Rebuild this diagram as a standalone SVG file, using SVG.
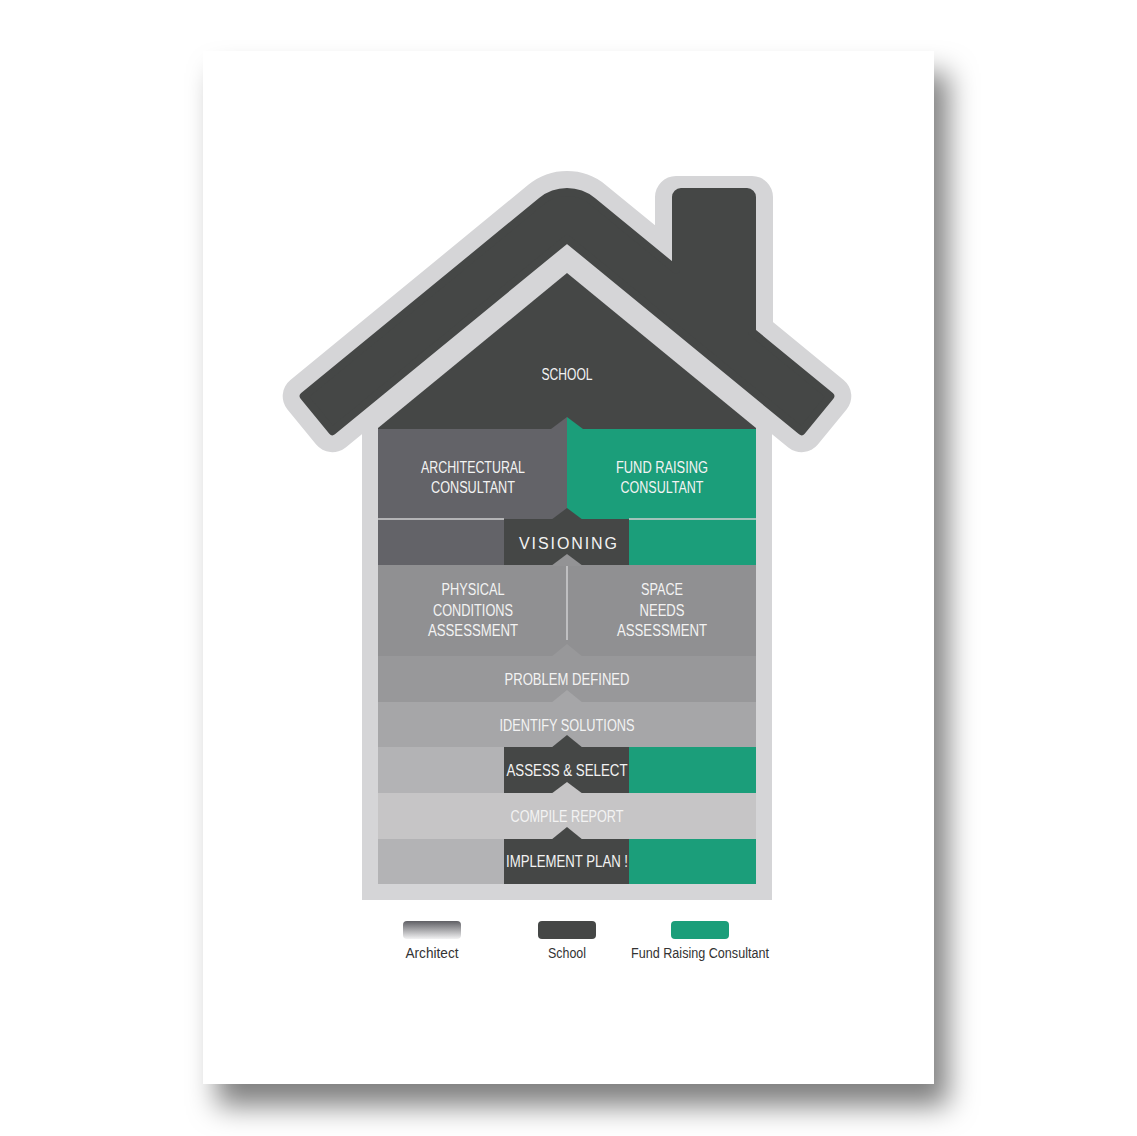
<svg xmlns="http://www.w3.org/2000/svg" width="1137" height="1136" viewBox="0 0 1137 1136">
<defs>
<style>
.t{font-family:"Liberation Sans","DejaVu Sans",sans-serif;font-size:16px;fill:#f3f3f3;text-anchor:middle}
.lg{font-family:"Liberation Sans","DejaVu Sans",sans-serif;font-size:14px;fill:#333333;text-anchor:middle}
.dark{fill:#454746}
.arch{fill:#636368}
.green{fill:#1b9e7a}
.sep{stroke:#cfcfd1;stroke-width:1.5;fill:none}
</style>
<filter id="shadow" x="-10%" y="-10%" width="125%" height="125%">
<feDropShadow dx="14" dy="22" stdDeviation="14" flood-color="#000" flood-opacity="0.5"/>
</filter>
<linearGradient id="archGrad" x1="0" y1="0" x2="0" y2="1">
<stop offset="0" stop-color="#5f5f64"/>
<stop offset="1" stop-color="#f2f2f3"/>
</linearGradient>
</defs>
<rect width="1137" height="1136" fill="#ffffff"/>
<rect id="page" x="203" y="51" width="731" height="1033" fill="#ffffff" filter="url(#shadow)"/>

<g id="house-outline">
<path d="M332.4,431.2 L303.7,396.2 L541.6,201.1 A40,40 0 0 1 592.4,201.1 L676,269.6 L676,197 L752,197 L752,331.9 L830.3,396.2 L801.6,431.2 L567,238.8 Z" fill="#d5d5d7" stroke="#d5d5d7" stroke-width="42" stroke-linejoin="round"/>
<path d="M362,900 L362,412 L567,244 L772,412 L772,900 Z" fill="#d5d5d7"/>
</g>

<g id="school">
<path d="M378,884 L378,428 L567,273 L756,428 L756,884 Z" class="dark"/>
<path d="M332.4,431.2 L303.7,396.2 L541.6,201.1 A40,40 0 0 1 592.4,201.1 L676,269.6 L676,197 A5,5 0 0 1 681,192 L747,192 A5,5 0 0 1 752,197 L752,331.9 L830.3,396.2 L801.6,431.2 L567,238.8 Z" class="dark" stroke="#454746" stroke-width="8" stroke-linejoin="round"/>
<text class="t" x="567" y="380" textLength="51" lengthAdjust="spacingAndGlyphs">SCHOOL</text>
</g>

<g id="architectural-consultant">
<rect x="378" y="429" width="189" height="91" class="arch"/>
<polygon points="551,429 567,417 567,430 551,430" class="arch"/>
<text class="t" x="473" y="473" textLength="104" lengthAdjust="spacingAndGlyphs">ARCHITECTURAL</text>
<text class="t" x="473" y="493" textLength="84" lengthAdjust="spacingAndGlyphs">CONSULTANT</text>
</g>

<g id="fund-raising-consultant">
<rect x="567" y="429" width="189" height="91" class="green"/>
<polygon points="567,417 583,429 583,430 567,430" class="green"/>
<text class="t" x="662" y="473" textLength="92" lengthAdjust="spacingAndGlyphs">FUND RAISING</text>
<text class="t" x="662" y="493" textLength="83" lengthAdjust="spacingAndGlyphs">CONSULTANT</text>
</g>

<g id="visioning">
<rect x="378" y="520" width="126" height="45" class="arch"/>
<rect x="629" y="520" width="127" height="45" class="green"/>
<line x1="378" y1="519" x2="504" y2="519" class="sep"/>
<line x1="629" y1="519" x2="756" y2="519" class="sep"/>
<rect x="504" y="519" width="125" height="46" class="dark"/>
<polygon points="551,520 567,508 583,520" class="dark"/>
<text class="t" x="568" y="549" textLength="98" lengthAdjust="spacing">VISIONING</text>
</g>

<g id="physical-conditions-assessment">
<rect x="378" y="565" width="189" height="91" fill="#909092"/>
<polygon points="551,566 567,554 567,566" fill="#939395"/>
<text class="t" x="473" y="595" textLength="63" lengthAdjust="spacingAndGlyphs">PHYSICAL</text>
<text class="t" x="473" y="616" textLength="80" lengthAdjust="spacingAndGlyphs">CONDITIONS</text>
<text class="t" x="473" y="636" textLength="90" lengthAdjust="spacingAndGlyphs">ASSESSMENT</text>
</g>

<g id="space-needs-assessment">
<rect x="567" y="565" width="189" height="91" fill="#909092"/>
<polygon points="567,554 583,566 567,566" fill="#939395"/>
<text class="t" x="662" y="595" textLength="42" lengthAdjust="spacingAndGlyphs">SPACE</text>
<text class="t" x="662" y="616" textLength="45" lengthAdjust="spacingAndGlyphs">NEEDS</text>
<text class="t" x="662" y="636" textLength="90" lengthAdjust="spacingAndGlyphs">ASSESSMENT</text>
</g>

<g id="problem-defined">
<rect x="378" y="656" width="378" height="46" fill="#98989a"/>
<polygon points="551,657 567,644 583,657" fill="#98989a"/>
<text class="t" x="567" y="685" textLength="125" lengthAdjust="spacingAndGlyphs">PROBLEM DEFINED</text>
</g>

<g id="identify-solutions">
<rect x="378" y="702" width="378" height="45" fill="#a6a6a8"/>
<polygon points="551,703 567,690 583,703" fill="#a6a6a8"/>
<text class="t" x="567" y="731" textLength="135" lengthAdjust="spacingAndGlyphs">IDENTIFY SOLUTIONS</text>
</g>

<g id="assess-select">
<rect x="378" y="747" width="126" height="46" fill="#b3b3b5"/>
<rect x="629" y="747" width="127" height="46" class="green"/>
<rect x="504" y="747" width="125" height="46" class="dark"/>
<polygon points="551,748 567,735 583,748" class="dark"/>
<text class="t" x="567" y="776" textLength="121" lengthAdjust="spacingAndGlyphs">ASSESS &amp; SELECT</text>
</g>

<g id="compile-report">
<rect x="378" y="793" width="378" height="46" fill="#c6c5c6"/>
<polygon points="551,794 567,782 583,794" fill="#c6c5c6"/>
<text class="t" x="567" y="822" textLength="113" lengthAdjust="spacingAndGlyphs">COMPILE REPORT</text>
</g>

<g id="implement-plan">
<rect x="378" y="839" width="126" height="45" fill="#b3b3b5"/>
<rect x="629" y="839" width="127" height="45" class="green"/>
<rect x="504" y="839" width="125" height="45" class="dark"/>
<polygon points="551,840 567,827 583,840" class="dark"/>
<text class="t" x="567" y="867" textLength="122" lengthAdjust="spacingAndGlyphs">IMPLEMENT PLAN !</text>
</g>

<g id="connectors">
<line x1="567" y1="566" x2="567" y2="640" class="sep"/>
</g>

<g id="legend">
<g id="legend-architect">
<rect x="403" y="921" width="58" height="18" rx="4" fill="url(#archGrad)"/>
<text class="lg" x="432" y="958" textLength="53" lengthAdjust="spacingAndGlyphs">Architect</text>
</g>
<g id="legend-school">
<rect x="538" y="921" width="58" height="18" rx="4" class="dark"/>
<text class="lg" x="567" y="958" textLength="38" lengthAdjust="spacingAndGlyphs">School</text>
</g>
<g id="legend-fund">
<rect x="671" y="921" width="58" height="18" rx="4" class="green"/>
<text class="lg" x="700" y="958" textLength="138" lengthAdjust="spacingAndGlyphs">Fund Raising Consultant</text>
</g>
</g>
</svg>
